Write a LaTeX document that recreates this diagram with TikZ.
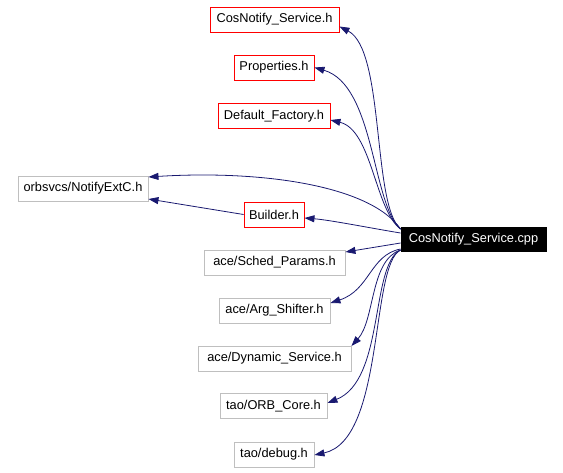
\documentclass[tikz,border=0pt]{standalone}
\usepackage{fontspec}
\setmainfont{Liberation Sans}
\usetikzlibrary{arrows.meta}
\definecolor{edgeblue}{HTML}{191970}
\definecolor{boxgray}{HTML}{BFBFBF}
\tikzset{
  filebox/.style={draw=boxgray, line width=0.9pt, inner sep=0pt, minimum height=25pt, font=\fontsize{12.8}{15}\selectfont, text=black},
  redbox/.style={filebox, draw=red},
  mainbox/.style={filebox, draw=black, fill=black, text=white},
  dep/.style={draw=edgeblue, line width=0.8pt, -{Triangle[length=10pt,width=7pt]}}
}
\begin{document}
\begin{tikzpicture}[x=1pt,y=-1pt]
\useasboundingbox (0,0) rectangle (563,472);
\node[redbox, minimum width=129pt] (csh) at (274.5,19.5) {CosNotify\_Service.h};
\node[redbox, minimum width=80pt] (prop) at (274,67.5) {Properties.h};
\node[redbox, minimum width=112pt] (df) at (274,116) {Default\_Factory.h};
\node[filebox, minimum width=130pt] (ext) at (83,188.5) {orbsvcs/NotifyExtC.h};
\node[redbox, minimum width=60pt] (bld) at (274,214.5) {Builder.h};
\node[mainbox, minimum width=145pt, minimum height=24pt] (cpp) at (473.5,239) {CosNotify\_Service.cpp};
\node[filebox, minimum width=141pt] (sch) at (274.5,262.5) {ace/Sched\_Params.h};
\node[filebox, minimum width=111pt] (arg) at (274.5,310.5) {ace/Arg\_Shifter.h};
\node[filebox, minimum width=153pt] (dyn) at (274.5,358.5) {ace/Dynamic\_Service.h};
\node[filebox, minimum width=107pt] (orb) at (273.5,406) {tao/ORB\_Core.h};
\node[filebox, minimum width=80pt] (dbg) at (274,454.5) {tao/debug.h};

\draw[dep] ([yshift=10pt]cpp.west) .. controls (372,205) and (385,50) .. ([yshift=-7pt]csh.east);
\draw[dep] ([yshift=10pt]cpp.west) .. controls (372,205) and (375,85) .. ([yshift=0pt]prop.east);
\draw[dep] ([yshift=10pt]cpp.west) .. controls (375,210) and (372,130) .. ([yshift=-4pt]df.east);
\draw[dep] ([yshift=10pt]cpp.west) .. controls (370,185) and (260,170) .. ([yshift=11.5pt]ext.east);
\draw[dep] (bld.west) -- ([yshift=-10.5pt]ext.east);
\draw[dep] ([yshift=6pt]cpp.west) .. controls (370,228) and (330,220) .. ([yshift=-3.5pt]bld.east);
\draw[dep] ([yshift=-4pt]cpp.west) -- ([yshift=10.5pt]sch.east);
\draw[dep] ([yshift=-10pt]cpp.west) .. controls (370,255) and (370,290) .. ([yshift=7.5pt]arg.east);
\draw[dep] ([yshift=-11pt]cpp.west) .. controls (370,260) and (375,320) .. ([yshift=12.5pt]dyn.east);
\draw[dep] ([yshift=-11pt]cpp.west) .. controls (370,265) and (385,380) .. ([yshift=3pt]orb.east);
\draw[dep] ([yshift=-11pt]cpp.west) .. controls (370,265) and (385,440) .. ([yshift=-0.5pt]dbg.east);
\end{tikzpicture}
\end{document}
